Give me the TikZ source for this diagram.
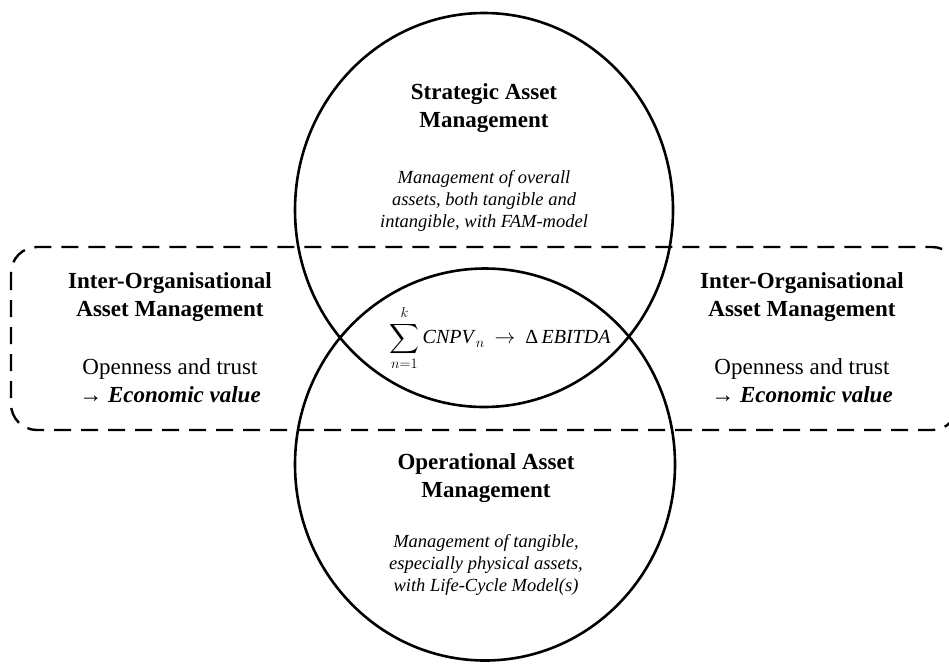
\documentclass[tikz,border=0pt]{standalone}
\usepackage{exscale}
\usepackage{fontspec}
\setmainfont{Liberation Serif}
\tikzset{
  ring/.style={line width=2.6pt, draw=black},
  dashbox/.style={line width=2.4pt, draw=black, dash pattern=on 17pt off 10pt, rounded corners=26pt},
  headtxt/.style={align=center, font=\fontsize{23}{28}\selectfont\bfseries, inner sep=0pt},
  desctxt/.style={align=center, font=\fontsize{18.5}{22}\selectfont\itshape, inner sep=0pt},
  bodytxt/.style={align=center, font=\fontsize{23}{28}\selectfont, inner sep=0pt},
}
\begin{document}
\begin{tikzpicture}[x=1pt,y=-1pt]
\useasboundingbox (0,0) rectangle (949,664);
\clip (0,0) rectangle (949,664);
% circles
\draw[ring] (484,210) ellipse [x radius=189pt, y radius=197pt];
\draw[ring] (485,464.5) ellipse [x radius=190pt, y radius=196pt];
% dashed rounded box
\draw[dashbox] (11,247) rectangle (958,430);
% top circle text
\node[headtxt] (sam) at (484,108) {Strategic Asset\\Management};
\node[desctxt] (samd) at (484,201) {Management of overall\\assets, both tangible and\\intangible, with FAM-model};
% bottom circle text
\node[headtxt] (oam) at (486,478) {Operational Asset\\Management};
\node[desctxt] (oamd) at (486,565) {Management of tangible,\\especially physical assets,\\with Life-Cycle Model(s)};
% left box
\node[headtxt] (ioaL) at (170,297) {Inter-Organisational\\Asset Management};
\node[bodytxt] (evL) at (170,381) {Openness and trust\\→ \textbf{\textit{Economic value}}};
% right box
\node[headtxt] (ioaR) at (802,297) {Inter-Organisational\\Asset Management};
\node[bodytxt] (evR) at (802,381) {Openness and trust\\→ \textbf{\textit{Economic value}}};
% formula
\node[inner sep=0pt, font=\fontsize{20}{24}\selectfont] (frm) at (500,338) {$\displaystyle\sum_{n=1}^{k}$\,\textit{CNPV}$_n$\ \ $\rightarrow$\ \ Δ\,\textit{EBITDA}};
\end{tikzpicture}
\end{document}
